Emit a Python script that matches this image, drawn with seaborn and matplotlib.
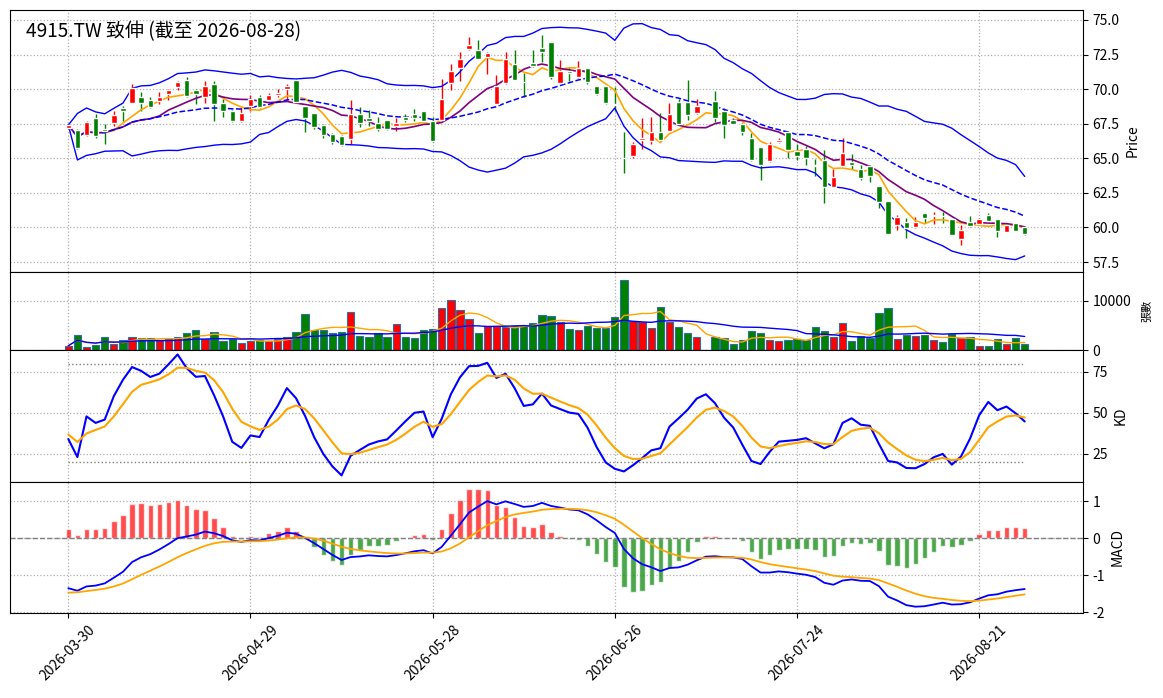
import numpy as np
import pandas as pd
import matplotlib
matplotlib.use("Agg")
import matplotlib.pyplot as plt
import seaborn as sns

# ---- daily data, 4915.TW ----
holidays = ["2026-04-03", "2026-04-06", "2026-05-01", "2026-06-19"]

opens = [
    67.2, 67.07, 66.7, 67.9, 67.1, 67.55, 68.6, 69.0, 69.4, 69.25,
    69.15, 69.67, 70.15, 70.65, 69.96, 69.4, 70.35, 69.0, 68.45, 67.7,
    68.8, 69.4, 69.25, 69.6, 70.0, 70.65, 68.75, 68.3, 67.4, 66.75,
    66.6, 66.4, 68.2, 67.9, 67.55, 67.8, 67.3, 68.0, 68.2, 68.45,
    67.7, 67.8, 70.45, 71.55, 72.9, 72.85, 72.3, 68.9, 70.45, 71.8,
    70.55, 71.9, 72.95, 73.4, 70.45, 71.3, 70.9, 71.5, 70.2, 70.2,
    68.9, 65.05, 65.2, 66.3, 66.25, 66.9, 66.95, 69.1, 69.05, 68.25,
    68.8, 69.15, 68.45, 67.8, 67.5, 66.45, 65.85, 64.8, 66.15, 66.9,
    65.55, 65.7, 64.55, 64.85, 62.95, 64.45, 64.75, 64.25, 64.45, 63.0,
    61.9, 60.2, 60.4, 60.0, 61.05, 60.8, 60.85, 60.6, 59.2, 60.4,
    60.25, 60.9, 60.6, 59.7, 60.35, 60.0,
]
closes = [
    67.4, 65.72, 67.65, 66.6, 66.95, 68.1, 68.45, 70.05, 69.0, 68.7,
    69.4, 69.96, 70.5, 69.5, 69.67, 70.25, 68.9, 68.4, 67.7, 68.3,
    69.3, 68.7, 69.6, 69.75, 70.2, 69.05, 67.9, 67.25, 66.65, 66.15,
    65.95, 68.2, 67.55, 67.7, 67.1, 67.1, 67.55, 67.75, 67.9, 67.7,
    66.25, 69.3, 71.3, 72.2, 73.2, 72.2, 72.6, 70.2, 72.2, 70.65,
    70.5, 71.7, 72.65, 70.9, 71.3, 71.2, 71.55, 70.5, 69.65, 69.0,
    68.85, 65.0, 66.05, 66.45, 66.9, 66.3, 68.2, 67.5, 68.15, 68.8,
    68.78, 67.9, 67.4, 67.5, 66.9, 64.85, 64.5, 66.05, 66.3, 65.6,
    65.2, 65.05, 64.45, 62.95, 63.65, 65.4, 64.5, 63.6, 63.7, 61.85,
    59.5, 60.75, 59.95, 60.4, 60.7, 60.9, 60.8, 59.45, 59.8, 60.1,
    60.6, 60.5, 59.75, 60.15, 59.75, 59.55,
]
highs = [
    67.5, 67.1, 67.7, 68.2, 67.5, 68.4, 68.75, 70.35, 69.8, 69.4,
    69.8, 70.0, 70.6, 70.9, 70.0, 70.6, 70.6, 69.3, 68.5, 68.7,
    69.6, 69.55, 69.7, 70.0, 70.35, 70.7, 68.75, 68.3, 67.5, 66.8,
    66.7, 69.2, 68.7, 68.5, 67.95, 67.8, 67.9, 68.2, 68.55, 68.45,
    68.0, 70.7, 71.8, 72.7, 73.8, 73.55, 72.65, 71.05, 72.7, 72.8,
    71.15, 72.85, 73.9, 73.4, 72.1, 71.6, 72.0, 71.5, 70.2, 70.2,
    70.15, 66.9, 66.15, 67.9, 68.0, 68.3, 69.0, 69.3, 70.65, 69.3,
    68.8, 69.85, 68.6, 67.9, 67.55, 66.8, 65.85, 66.15, 66.5, 66.95,
    66.0, 65.9, 64.95, 65.6, 64.2, 66.45, 65.3, 64.55, 64.55, 63.0,
    61.9, 60.9, 60.7, 60.75, 61.05, 61.1, 61.15, 60.6, 60.2, 60.8,
    60.7, 61.05, 60.6, 60.2, 60.35, 60.1,
]
lows = [
    67.1, 65.7, 66.6, 66.5, 66.03, 67.35, 67.7, 69.0, 68.45, 68.6,
    68.95, 69.2, 69.95, 69.4, 68.9, 69.0, 67.7, 67.95, 67.65, 67.6,
    68.4, 68.65, 69.2, 69.4, 69.25, 69.05, 66.9, 67.15, 66.45, 66.05,
    65.9, 66.05, 67.25, 67.35, 67.0, 67.05, 66.95, 67.6, 67.7, 67.6,
    66.15, 67.8, 69.95, 70.6, 72.8, 72.2, 71.1, 68.9, 70.35, 70.65,
    69.4, 71.6, 71.95, 70.7, 70.45, 70.6, 70.8, 70.35, 69.6, 68.95,
    68.4, 63.95, 65.05, 65.65, 66.05, 66.2, 66.95, 67.4, 67.8, 68.2,
    68.78, 67.6, 66.5, 67.45, 66.7, 64.8, 63.4, 64.75, 66.1, 65.0,
    64.85, 64.5, 63.7, 61.8, 62.95, 64.45, 64.25, 63.4, 63.3, 61.4,
    59.5, 59.8, 59.25, 59.95, 60.35, 60.25, 60.3, 59.45, 58.75, 60.0,
    60.15, 60.4, 59.3, 59.7, 59.75, 59.45,
]
volumes = [
    870, 3150, 670, 940, 2750, 1140, 2010, 2750, 2420, 2350,
    1950, 2210, 2550, 3420, 4160, 2280, 3760, 1810, 2150, 1340,
    1880, 1950, 1740, 2280, 2550, 3760, 7380, 4160, 4160, 3560,
    3760, 7790, 2950, 2750, 3560, 2550, 5370, 2750, 2350, 4160,
    4360, 8590, 10200, 8190, 6380, 3420, 4830, 4830, 4700, 4830,
    4830, 5570, 7180, 6980, 5700, 4360, 4160, 4970, 4560, 4560,
    6780, 14230, 5900, 5770, 4560, 8790, 5770, 4770, 3420, 2550,
    0, 2620, 2350, 1140, 1950, 3960, 3420, 1950, 1740, 1950,
    2210, 1950, 4770, 3960, 2550, 5570, 1740, 2950, 2350, 7580,
    8590, 2150, 3150, 2950, 3150, 1950, 1540, 3360, 2350, 2750,
    870, 870, 2150, 1140, 2350, 1140,
]

# indicator state on the first bar (history before the window is not shown)
K_START, D_START = 34.1, 36.9
EMA12_START, EMA26_START, DEA_START = 67.83, 69.18, -1.47

dates = pd.bdate_range("2026-03-30", "2026-08-28")
dates = dates[~dates.isin(pd.to_datetime(holidays))]

df = pd.DataFrame({"open": opens, "high": highs, "low": lows,
                   "close": closes, "volume": volumes}, index=dates)
n = len(df)
x = np.arange(n)
up = df["close"] >= df["open"]

# moving averages / bollinger
close = df["close"]
ma5 = close.rolling(5, min_periods=1).mean()
ma10 = close.rolling(10, min_periods=1).mean()
mid = close.rolling(20, min_periods=1).mean()
sd = close.rolling(20, min_periods=1).std(ddof=0)
upper = mid + 2 * sd
lower = mid - 2 * sd
vma5 = df["volume"].rolling(5, min_periods=1).mean()
vma20 = df["volume"].rolling(20, min_periods=1).mean()

# KD (9,3,3)
low9 = df["low"].rolling(9, min_periods=1).min()
high9 = df["high"].rolling(9, min_periods=1).max()
rsv = ((close - low9) / (high9 - low9) * 100).values
k = np.empty(n)
d = np.empty(n)
k[0], d[0] = K_START, D_START
for t in range(1, n):
    k[t] = 2 / 3 * k[t - 1] + rsv[t] / 3
    d[t] = 2 / 3 * d[t - 1] + k[t] / 3

# MACD (12,26,9)
c = close.values
e12 = np.empty(n)
e26 = np.empty(n)
e12[0], e26[0] = EMA12_START, EMA26_START
for t in range(1, n):
    e12[t] = e12[t - 1] + 2 / 13 * (c[t] - e12[t - 1])
    e26[t] = e26[t - 1] + 2 / 27 * (c[t] - e26[t - 1])
dif = e12 - e26
dea = np.empty(n)
dea[0] = DEA_START
for t in range(1, n):
    dea[t] = dea[t - 1] + 0.2 * (dif[t] - dea[t - 1])
osc = 2 * (dif - dea)

# ---- figure ----
sns.set_style("ticks", {"axes.edgecolor": "black", "xtick.color": "black",
                        "ytick.color": "black", "text.color": "black",
                        "axes.labelcolor": "black"})
plt.rcParams["font.family"] = ["Noto Sans CJK TC", "DejaVu Sans"]
plt.rcParams["axes.unicode_minus"] = False

fig = plt.figure(figsize=(11.63, 6.98), dpi=100)
L, W = 10 / 1163, 1073 / 1163
ax1 = fig.add_axes([L, 1 - 272 / 698, W, 262 / 698])
ax2 = fig.add_axes([L, 1 - 350 / 698, W, 78 / 698], sharex=ax1)
ax3 = fig.add_axes([L, 1 - 482 / 698, W, 132 / 698], sharex=ax1)
ax4 = fig.add_axes([L, 1 - 613 / 698, W, 131 / 698], sharex=ax1)

RED, GREEN = "red", "green"
cols = np.where(up, RED, GREEN)

# candles
body_lo = np.minimum(df["open"], df["close"])
body_h = np.maximum((df["close"] - df["open"]).abs(), 0.03)
ax1.vlines(x, df["low"], df["high"], colors=cols, linewidth=1, zorder=2)
ax1.bar(x, body_h, bottom=body_lo, width=0.6, color=cols, zorder=3)
sns.lineplot(x=x, y=ma5.values, ax=ax1, color="orange", linewidth=1.2)
sns.lineplot(x=x, y=ma10.values, ax=ax1, color="purple", linewidth=1.2)
sns.lineplot(x=x, y=mid.values, ax=ax1, color="blue", linewidth=1.1, linestyle="--")
sns.lineplot(x=x, y=upper.values, ax=ax1, color="blue", linewidth=1.0)
sns.lineplot(x=x, y=lower.values, ax=ax1, color="blue", linewidth=1.0)
ax1.set_ylim(56.78, 75.72)
ax1.set_yticks([57.5, 60, 62.5, 65, 67.5, 70, 72.5, 75])
ax1.set_ylabel("Price")
ax1.text(0.015, 0.958, "4915.TW 致伸 (截至 2026-08-28)", transform=ax1.transAxes,
         fontsize=13.7, va="top", ha="left")

# volume
ax2.bar(x, df["volume"], width=0.8, color=cols, edgecolor="#2f6fa8", linewidth=0.8)
sns.lineplot(x=x, y=vma5.values, ax=ax2, color="orange", linewidth=1.0)
sns.lineplot(x=x, y=vma20.values, ax=ax2, color="blue", linewidth=1.0)
ax2.set_ylim(0, 15900)
ax2.set_yticks([0, 10000])
ax2.set_ylabel("張數", fontsize=8, labelpad=8)

# KD
ax3.plot(x, np.full(n, 80), color="gray", linestyle=":", linewidth=1)
ax3.plot(x, np.full(n, 20), color="gray", linestyle=":", linewidth=1)
sns.lineplot(x=x, y=k, ax=ax3, color="blue", linewidth=1.5)
sns.lineplot(x=x, y=d, ax=ax3, color="orange", linewidth=1.5)
ax3.set_ylim(7.9, 88.4)
ax3.set_yticks([25, 50, 75])
ax3.set_ylabel("KD")

# MACD
ax4.bar(x, osc, width=0.6, color=np.where(osc >= 0, RED, GREEN), alpha=0.7)
ax4.axhline(0, color="gray", linestyle="--", linewidth=1)
sns.lineplot(x=x, y=dif, ax=ax4, color="blue", linewidth=1.3)
sns.lineplot(x=x, y=dea, ax=ax4, color="orange", linewidth=1.3)
ax4.set_ylim(-2.02, 1.52)
ax4.set_yticks([-2, -1, 0, 1])
ax4.set_ylabel("MACD")

tick_pos = x[::20]
for ax in (ax1, ax2, ax3, ax4):
    ax.yaxis.tick_right()
    ax.yaxis.set_label_position("right")
    ax.grid(True, linestyle=":", color="#b0b0b0", linewidth=0.9)
    ax.set_xlim(-6.4, 111.4)
    ax.set_xticks(tick_pos)
    for s in ax.spines.values():
        s.set_visible(True)
        s.set_color("black")
    if ax is not ax4:
        ax.tick_params(axis="x", labelbottom=False, length=0)
ax4.set_xticklabels([dates[i].strftime("%Y-%m-%d") for i in tick_pos], rotation=45)

fig.savefig("out.png", dpi=100)
